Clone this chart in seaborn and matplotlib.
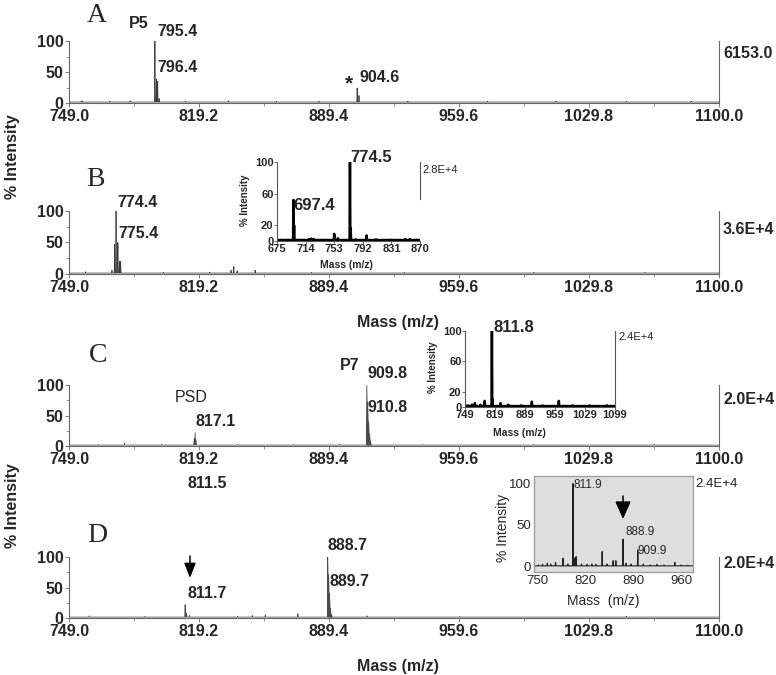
import matplotlib
matplotlib.use("Agg")
import matplotlib.pyplot as plt
import matplotlib.patches as mpatches
import seaborn as sns
import pandas as pd

sns.set_theme(style="white")
plt.rcParams['font.family'] = ['Liberation Sans', 'DejaVu Sans']

W, H, DPI = 776, 675, 100

# ---------------- data ----------------
main_xticks = [749.0, 819.2, 889.4, 959.6, 1029.8, 1100.0]
main_yticks = [0, 50, 100]
main_base = 1.5

A_mass = [756, 771, 782, 795.4, 796.2, 796.9, 797.7, 812, 835, 861, 884, 904.6, 905.6, 932, 975, 1012, 1050, 1085]
A_int  = [3.5, 3.0, 3.5, 100, 38, 35, 7, 3, 3.5, 3, 3, 24, 12, 3, 3, 3, 3, 3]
A_scale = "6153.0"

B_mass = [758.0, 772.2, 773.6, 774.4, 775.4, 776.2, 776.9, 800, 825.0, 836.5, 838.0, 839.8, 849.5, 880, 930, 1000, 1060]
B_int  = [3.5, 6, 47, 100, 50, 20, 20, 2.5, 3, 6, 12, 5, 6, 2.5, 2.5, 2.5, 2.5]
B_scale = "3.6E+4"

C_mass = [765, 779.0, 799, 816.6, 817.1, 817.6, 840, 870, 895, 909.8, 910.3, 910.8, 911.3, 911.8, 940, 1000, 1065]
C_int  = [2.5, 5, 3, 12, 22, 10, 2.5, 2.5, 3, 100, 72, 40, 20, 8, 2.5, 2.5, 3.5]
C_gray = [909.8, 910.3, 910.8, 911.3, 911.8]
C_scale = "2.0E+4"

D_mass = [760, 790, 811.7, 812.5, 814, 840, 848, 855, 872.6, 888.7, 889.2, 889.7, 890.2, 890.8, 910, 960, 1050]
D_int  = [3.5, 2.5, 22, 8, 4, 3, 4, 5, 7, 100, 72, 40, 16, 6, 3.5, 2.5, 3]
D_gray = [888.7, 889.2, 889.7, 890.2, 890.8]
D_scale = "2.0E+4"

# inset B
iB_xticks = [675, 714, 753, 792, 831, 870]
iB_yticks = [0, 20, 60, 100]
iB_mass = [680, 690, 697.4, 698.3, 705, 719, 722, 725, 740, 753.0, 758, 774.5, 775.5, 782, 797, 810, 830, 850, 856, 865]
iB_int  = [1.5, 1.5, 52, 20, 1.5, 2.5, 3, 2.5, 1.5, 9, 3.5, 100, 16, 2, 7, 2, 1.5, 2.5, 2.5, 1.5]
iB_scale = "2.8E+4"

# inset C
iC_xticks = [749, 819, 889, 959, 1029, 1099]
iC_yticks = [0, 20, 60, 100]
iC_mass = [755, 765, 772, 785, 795, 811.8, 813, 832, 850, 880, 905, 930, 968, 1000, 1040, 1080]
iC_int  = [2, 3, 5, 3, 8, 100, 10, 5, 3, 2, 7, 2, 8, 2, 2, 2]
iC_scale = "2.4E+4"

# inset D (peak positions)
iD_xticks = [750, 820, 890, 960]
iD_yticks = [0, 50, 100]
iD_mass = [752, 758, 765, 770, 777, 788, 795, 802.5, 805, 807, 815, 823, 830, 836, 845, 852, 861, 865, 875.5, 880, 887, 897, 905, 915, 925, 935, 951, 960, 970]
iD_int  = [2, 3, 4, 3, 5, 10, 3, 100, 10, 12, 3, 2.5, 3, 2.5, 18, 3, 7, 7, 33, 4, 3, 20, 3, 2, 2.5, 2, 5, 2, 1.5]
iD_scale = "2.4E+4"

# ---------------- helpers ----------------
fig = plt.figure(figsize=(W / DPI, H / DPI), dpi=DPI)
fig.patch.set_facecolor("white")


def px_axes(left, top, right, bottom):
    return fig.add_axes([left / W, 1 - bottom / H, (right - left) / W, (bottom - top) / H])


def ftext(x, y, s, **kw):
    kw.setdefault("ha", "left")
    kw.setdefault("va", "center")
    fig.text(x / W, 1 - y / H, s, **kw)


def farrow(x, y0, y1, scale, hl, hw):
    fig.add_artist(mpatches.FancyArrowPatch(
        (x / W, 1 - y0 / H), (x / W, 1 - y1 / H), transform=fig.transFigure,
        arrowstyle=f"-|>,head_length={hl},head_width={hw}", mutation_scale=scale,
        shrinkA=0, shrinkB=0, color="black", lw=1.1))


def profile(mass, inten, base, w, lo, hi):
    xs, ys = [lo], [base]
    for m, h in sorted(zip(mass, inten)):
        xs += [m - w, m, m + w]
        ys += [base, h, base]
    xs.append(hi)
    ys.append(base)
    return pd.DataFrame({"m": xs, "i": ys})


def draw_spec(ax, mass, inten, base, w, lo, hi, color, lw):
    df = profile(mass, inten, base, w, lo, hi)
    sns.lineplot(data=df, x="m", y="i", ax=ax, estimator=None, sort=False,
                 color=color, lw=lw, legend=False)
    ax.set_xlabel("")
    ax.set_ylabel("")


spine_col = "#666666"


def style_main(ax):
    ax.set_xlim(main_xticks[0], main_xticks[-1])
    ax.set_ylim(0, 100)
    ax.patch.set_alpha(0)
    for s in ["left", "bottom", "right"]:
        ax.spines[s].set_color(spine_col)
        ax.spines[s].set_linewidth(0.8)
    ax.spines["top"].set_visible(False)
    ax.set_xticks(main_xticks)
    ax.set_xticklabels([f"{t:.1f}" for t in main_xticks])
    ax.set_xticks([(a + b) / 2 for a, b in zip(main_xticks[:-1], main_xticks[1:])], minor=True)
    ax.set_yticks(main_yticks)
    ax.set_yticklabels([str(t) for t in main_yticks])
    ax.set_yticks([25, 75], minor=True)
    ax.tick_params(axis="both", which="major", direction="out", length=3, width=0.6,
                   color=spine_col, labelsize=11.5, pad=1)
    ax.tick_params(axis="both", which="minor", direction="out", length=2, width=0.5,
                   color=spine_col)
    ax.tick_params(axis="y", which="both", right=False, left=True)
    ax.tick_params(axis="x", which="both", bottom=True, top=False)
    for t in ax.get_xticklabels() + ax.get_yticklabels():
        t.set_fontweight("bold")
    ax.grid(False)


def fill_gray(ax, mass, inten, keep, base, w):
    sel = [(m, h) for m, h in zip(mass, inten) if m in keep]
    df = profile([m for m, _ in sel], [h for _, h in sel], base, w, sel[0][0] - w, sel[-1][0] + w)
    ax.fill_between(df["m"], base, df["i"], color="#9a9a9a", lw=0)


bold = dict(fontweight="bold", fontsize=11.5)
line_col = "#3a3a3a"

# ---------------- panel A ----------------
axA = px_axes(69, 41, 719, 103)
draw_spec(axA, A_mass, A_int, main_base, 0.18, 749, 1100, line_col, 0.55)
style_main(axA)
ftext(723, 53, A_scale, **bold)
ftext(97, 15, "A", ha="center", family="Liberation Serif", fontsize=20)
ftext(139, 23, "P5", ha="center", **bold)
ftext(157, 31, "795.4", **bold)
ftext(157, 68, "796.4", **bold)
ftext(349, 84, "*", ha="center", fontsize=15, fontweight="bold")
ftext(360, 77, "904.6", **bold)

# ---------------- panel B ----------------
axB = px_axes(69, 211, 719, 274)
draw_spec(axB, B_mass, B_int, main_base, 0.18, 749, 1100, line_col, 0.55)
style_main(axB)
ftext(723, 229, B_scale, **bold)
ftext(95, 180, "B", ha="center", family="Liberation Serif", fontsize=20)
ftext(117, 202, "774.4", **bold)
ftext(118, 234, "775.4", **bold)

# ---------------- panel C ----------------
axC = px_axes(69, 385, 719, 446)
fill_gray(axC, C_mass, C_int, C_gray, main_base, 0.5)
draw_spec(axC, C_mass, C_int, main_base, 0.3, 749, 1100, "#4a4a4a", 0.55)
style_main(axC)
ftext(723, 400, C_scale, **bold)
ftext(98, 356, "C", ha="center", family="Liberation Serif", fontsize=20)
ftext(191, 397, "PSD", ha="center", fontsize=11.5)
ftext(195, 421, "817.1", **bold)
ftext(350, 365, "P7", ha="center", **bold)
ftext(367, 373, "909.8", **bold)
ftext(368, 408, "910.8", **bold)
ftext(188, 483, "811.5", **bold)

# ---------------- panel D ----------------
axD = px_axes(69, 557, 719, 618)
fill_gray(axD, D_mass, D_int, D_gray, main_base, 0.5)
draw_spec(axD, D_mass, D_int, main_base, 0.2, 749, 1100, "#4a4a4a", 0.55)
style_main(axD)
ftext(723, 563, D_scale, **bold)
ftext(97, 535, "D", ha="center", family="Liberation Serif", fontsize=20)
ftext(187, 593, "811.7", **bold)
ftext(328, 546, "888.7", **bold)
ftext(330, 581, "889.7", **bold)
farrow(190, 556, 578, 10, 0.9, 0.35)

# axis titles
ftext(398, 322, "Mass (m/z)", ha="center", **bold)
ftext(398, 667, "Mass (m/z)", ha="center", **bold)
ftext(13, 157, "% Intensity", ha="center", rotation=90, **bold)
ftext(13, 506, "% Intensity", ha="center", rotation=90, **bold)


# ---------------- insets ----------------
def style_inset(ax, xt, yt, fs, weight, col):
    ax.patch.set_alpha(0)
    ax.set_xticks(xt)
    ax.set_xticklabels([str(t) for t in xt])
    ax.set_yticks(yt)
    ax.set_yticklabels([str(t) for t in yt])
    ax.tick_params(axis="both", which="major", direction="out", length=2, width=0.6,
                   color=col, labelsize=fs, pad=0.5)
    ax.tick_params(axis="y", right=False, left=True)
    ax.tick_params(axis="x", bottom=True, top=False)
    for t in ax.get_xticklabels() + ax.get_yticklabels():
        t.set_fontweight(weight)
    ax.grid(False)


# inset B
iaxB = px_axes(277, 162, 420, 241)
draw_spec(iaxB, iB_mass, iB_int, 1.2, 0.5, 675, 870, "black", 1.8)
iaxB.set_xlim(675, 870)
iaxB.set_ylim(0, 100)
for s in ["left", "bottom", "right"]:
    iaxB.spines[s].set_color("#555555")
    iaxB.spines[s].set_linewidth(0.8)
iaxB.spines["top"].set_visible(False)
iaxB.spines["right"].set_bounds(53, 100)
style_inset(iaxB, iB_xticks, iB_yticks, 8, "bold", "#555555")
ftext(422, 170, iB_scale, fontsize=8)
ftext(293, 205, "697.4", fontsize=12, fontweight="bold")
ftext(350, 158, "774.5", fontsize=12, fontweight="bold")
ftext(245, 200, "% Intensity", ha="center", rotation=90, fontsize=7, fontweight="bold")
ftext(346, 265, "Mass (m/z)", ha="center", fontsize=7.5, fontweight="bold")

# inset C
iaxC = px_axes(465, 331, 615, 407)
draw_spec(iaxC, iC_mass, iC_int, 1.2, 0.8, 749, 1099, "black", 1.8)
iaxC.set_xlim(749, 1099)
iaxC.set_ylim(0, 100)
for s in ["left", "bottom", "right"]:
    iaxC.spines[s].set_color("#555555")
    iaxC.spines[s].set_linewidth(0.8)
iaxC.spines["top"].set_visible(False)
style_inset(iaxC, iC_xticks, iC_yticks, 8, "bold", "#555555")
ftext(618, 337, iC_scale, fontsize=8)
ftext(493, 328, "811.8", fontsize=12, fontweight="bold")
ftext(433, 367, "% Intensity", ha="center", rotation=90, fontsize=7, fontweight="bold")
ftext(519, 433, "Mass (m/z)", ha="center", fontsize=7.5, fontweight="bold")

# inset D
iaxD = px_axes(534, 476, 693, 572)
iaxD.set_facecolor("#dedede")
draw_spec(iaxD, iD_mass, iD_int, 0.8, 0.6, 745.6, 977.5, "#222222", 0.8)
iaxD.set_xlim(745.6, 977.5)
iaxD.set_ylim(-6.6, 109)
for s in iaxD.spines.values():
    s.set_color("#a0a0a0")
    s.set_linewidth(1.0)
iaxD.set_xticks(iD_xticks)
iaxD.set_xticklabels([str(t) for t in iD_xticks])
iaxD.set_yticks(iD_yticks)
iaxD.set_yticklabels([str(t) for t in iD_yticks])
iaxD.tick_params(axis="both", length=0, labelsize=9.5, pad=2)
iaxD.grid(False)
ftext(573, 485, "811.9", fontsize=8.5)
ftext(625, 532, "888.9", fontsize=8.5)
ftext(638, 551, "909.9", fontsize=8.5)
ftext(695, 484, iD_scale, fontsize=9.5)
ftext(503, 528, "% Intensity", ha="center", rotation=90, fontsize=10)
ftext(603, 601, "Mass  (m/z)", ha="center", fontsize=10)
farrow(623, 496, 519, 12, 0.9, 0.4)

fig.savefig("out.png", dpi=DPI, facecolor="white")
